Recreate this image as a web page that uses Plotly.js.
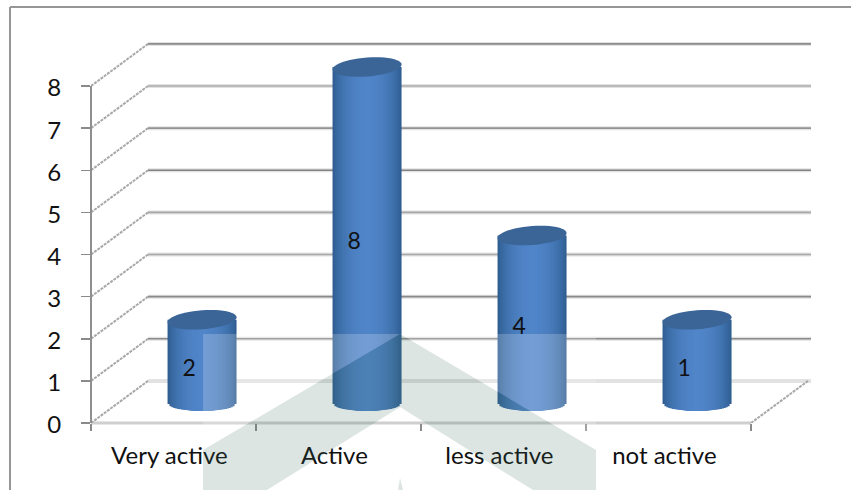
<!DOCTYPE html>
<html>
<head>
<meta charset="utf-8">
<script src="https://cdn.plot.ly/plotly-3.0.1.min.js"></script>
<style>html,body{margin:0;padding:0;background:#fff}#c{width:851px;height:490px}</style>
</head>
<body>
<div id="c"></div>
<script>
// ---- data ----
var categories = ["Very active", "Active", "less active", "not active"];
var barHeights = [2, 8, 4, 2];
var dataLabels = ["2", "8", "4", "1"];
var yTicks = [0, 1, 2, 3, 4, 5, 6, 7, 8];

// ---- geometry of the fake 3D box, in pixels of the page ----
var PX = {left: 91, right: 811, top: 40, bottom: 423, cat: 165, unit: 42.125, W: 851, H: 490};
var xMax = (PX.right - PX.left) / PX.cat;
var yMax = (PX.bottom - PX.top) / PX.unit;
var depthX = 57 / PX.cat, depthY = 1;
var barOffsetX = 0.673, barOffsetY = 0.45, barWidth = 69 / PX.cat;
var bottomBulge = 7 / PX.unit, topHalf = 9.5 / PX.unit, lidTilt = 2.5 / PX.unit;
function xp(px) { return (px - PX.left) / (PX.right - PX.left); }
function yp(py) { return (PX.bottom - py) / (PX.bottom - PX.top); }
function poly(pts) {
  return pts.map(function (p, i) { return (i ? "L" : "M") + xp(p[0]).toFixed(4) + " " + yp(p[1]).toFixed(4); }).join(" ") + " Z";
}

// ---- walls ----
var gridTones = ["#dcdcdc", "#8a8a8a", "#8a8a8a", "#a8a8a8", "#a8a8a8", "#828282", "#949494", "#adadad", "#8c8c8c"];
var slant = {color: "#a8a8a8", width: 2, dash: "3px,1px"};
var shapes = [];
yTicks.forEach(function (v, i) {
  shapes.push({type: "line", layer: "below", xref: "x", yref: "y", x0: depthX, x1: xMax, y0: v + depthY, y1: v + depthY,
    line: {color: "#e2e2e2", width: 4}});
  if (i > 0) shapes.push({type: "line", layer: "below", xref: "x", yref: "y", x0: depthX, x1: xMax, y0: v + depthY, y1: v + depthY,
    line: {color: gridTones[i], width: 1.6}});
  shapes.push({type: "line", layer: "below", xref: "x", yref: "y", x0: 0, x1: depthX, y0: v, y1: v + depthY, line: slant});
});
// right edge of the floor
shapes.push({type: "line", layer: "below", xref: "x", yref: "y", x0: categories.length, x1: categories.length + depthX, y0: 0, y1: depthY, line: slant});
// front floor edge and value axis
shapes.push({type: "line", layer: "below", xref: "x", yref: "paper", x0: 0, x1: categories.length, y0: 0, y1: 0,
  line: {color: "#cfcfcf", width: 3}});
shapes.push({type: "line", layer: "above", xref: "paper", yref: "y", x0: 0, x1: 0, y0: 0, y1: yTicks[yTicks.length - 1],
  line: {color: "#8f8f8f", width: 2}});

// ---- cylinders: nested bars give the horizontal shading and the round foot ----
var centers = categories.map(function (c, i) { return i + barOffsetX; });
function mix(t) {
  var edge = [47, 94, 146], mid = [80, 133, 201];
  var k = Math.pow(1 - t * t, 0.8);
  return "rgb(" + edge.map(function (e, j) { return Math.round(e + (mid[j] - e) * k); }).join(",") + ")";
}
var traces = [];
var layers = 18;
for (var n = 0; n < layers; n++) {
  var t = 1 - n / layers;
  var drop = bottomBulge * Math.sqrt(1 - t * t);
  traces.push({
    type: "bar", x: centers, width: barWidth * t,
    y: barHeights.map(function (h) { return h + drop; }),
    base: barHeights.map(function () { return barOffsetY - drop; }),
    marker: {color: mix(t), line: {width: 0}},
    hoverinfo: "skip", showlegend: false
  });
}
// cylinder lids: slightly tilted ellipses, right side higher
function lidPath(cx, cy) {
  var d = "";
  for (var k = 0; k < 48; k++) {
    var a = k / 48 * 2 * Math.PI;
    var px = cx + barWidth / 2 * Math.cos(a);
    var py = cy + topHalf * Math.sin(a) + lidTilt * Math.cos(a);
    d += (k ? "L" : "M") + px.toFixed(4) + " " + py.toFixed(4) + " ";
  }
  return d + "Z";
}
barHeights.forEach(function (h, i) {
  shapes.push({type: "path", layer: "above", xref: "x", yref: "y",
    path: lidPath(centers[i], barOffsetY + h),
    fillcolor: "#3a6596", line: {width: 0}});
});

// data labels
traces.push({
  type: "scatter", mode: "text", cliponaxis: false,
  x: categories.map(function (c, i) { return i + 0.595; }),
  y: barHeights.map(function (h) { return h / 2 + 0.26; }),
  text: dataLabels, textposition: "middle center",
  textfont: {family: "Lato, 'Open Sans', sans-serif", size: 23, color: "#111"},
  hoverinfo: "skip", showlegend: false
});

// ---- outer frame ----
shapes.push({type: "line", layer: "above", xref: "paper", yref: "paper",
  x0: xp(10), x1: xp(10), y0: yp(7), y1: yp(PX.H), line: {color: "#969696", width: 2}});
shapes.push({type: "line", layer: "above", xref: "paper", yref: "paper",
  x0: xp(10), x1: xp(PX.W), y0: yp(7), y1: yp(7), line: {color: "#969696", width: 2}});

// ---- watermark over the chart ----
var veil = "rgba(255,255,255,0.2)";
shapes.push({type: "path", layer: "above", xref: "paper", yref: "paper", line: {width: 0}, fillcolor: veil,
  path: poly([[203, 334], [400, 334], [203, 450]])});
shapes.push({type: "path", layer: "above", xref: "paper", yref: "paper", line: {width: 0}, fillcolor: veil,
  path: poly([[400, 334], [596, 334], [596, 450]])});
var teal = "rgba(60,110,95,0.18)";
shapes.push({type: "path", layer: "above", xref: "paper", yref: "paper", line: {width: 0}, fillcolor: teal,
  path: poly([[400, 334], [596, 450], [596, 490], [533, 490], [400, 407], [267, 490], [203, 490], [203, 450]])});
shapes.push({type: "path", layer: "above", xref: "paper", yref: "paper", line: {width: 0}, fillcolor: teal,
  path: poly([[400, 478], [398, 490], [403, 490]])});

var tickFont = {family: "Lato, 'Open Sans', sans-serif", size: 24, color: "#111"};
var layout = {
  width: PX.W, height: PX.H,
  margin: {l: PX.left, r: PX.W - PX.right, t: PX.top, b: PX.H - PX.bottom, pad: 0},
  paper_bgcolor: "#fff", plot_bgcolor: "rgba(0,0,0,0)",
  barmode: "overlay", showlegend: false, hovermode: false,
  shapes: shapes,
  xaxis: {
    range: [0, xMax], showgrid: false, zeroline: false, showline: false,
    tickmode: "array",
    tickvals: categories.map(function (c, i) { return i + 0.475; }),
    ticktext: categories, ticks: "", tickfont: tickFont, ticklabelstandoff: 16,
    minor: {tickmode: "array", tickvals: [0, 1, 2, 3, 4], ticks: "outside", ticklen: 7, tickwidth: 1.5, tickcolor: "#8a8a8a", showgrid: false}
  },
  yaxis: {
    range: [0, yMax], showgrid: false, zeroline: false, showline: false,
    tickmode: "array", tickvals: yTicks, ticktext: yTicks.map(String),
    ticks: "outside", ticklen: 9, tickwidth: 1.5, tickcolor: "#8a8a8a",
    tickfont: tickFont, ticklabelstandoff: 15, ticklabelshift: 2
  }
};
Plotly.newPlot("c", traces, layout, {displayModeBar: false, staticPlot: true});
</script>
</body>
</html>
